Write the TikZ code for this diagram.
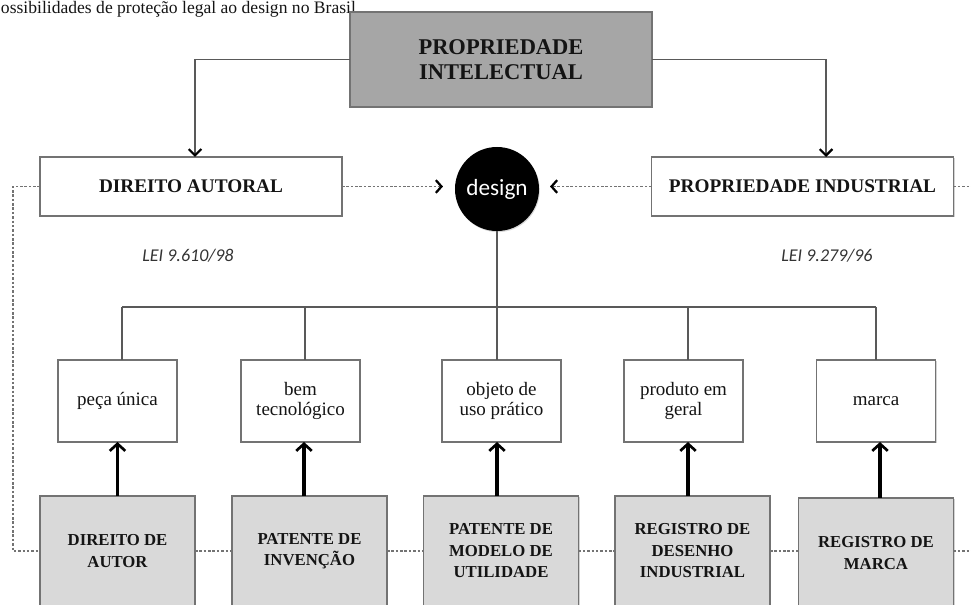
\documentclass[tikz,border=0pt]{standalone}
\usepackage{fontspec}
\setmainfont{Liberation Serif}
\newfontfamily\calfont{Carlito}
\usetikzlibrary{arrows.meta,shadows,calc}
\begin{document}
\begin{tikzpicture}[x=0.025cm,y=-0.025cm,
  every node/.style={inner sep=0pt, outer sep=0pt, align=center, text=black!92},
  boxbase/.style={draw=black!55, line width=0.8pt, drop shadow={shadow xshift=0.8pt,shadow yshift=-1pt,opacity=0.35}},
  topbox/.style={boxbase, fill=black!35, minimum width=7.55cm, minimum height=2.375cm, font=\fontsize{16}{17.8}\selectfont\bfseries},
  midbox/.style={boxbase, fill=white, minimum width=7.55cm, minimum height=1.475cm, font=\fontsize{13.7}{16}\selectfont\bfseries},
  smallbox/.style={boxbase, fill=white, minimum width=2.975cm, minimum height=2.05cm, font=\fontsize{13.5}{14.2}\selectfont},
  regbox/.style={boxbase, fill=black!15, minimum width=3.875cm, minimum height=2.75cm, font=\fontsize{11.9}{15.3}\selectfont\bfseries},
  link/.style={draw=black!65, line width=0.9pt},
  downarrow/.style={link, -{Straight Barb[color=black,length=4.5pt,width=9pt,line width=1.6pt]}},
  uparrow/.style={draw=black, line width=2.3pt, -{Straight Barb[length=5pt,width=11pt,line width=1.9pt]}},
  dots/.style={draw=black!55, line width=0.8pt, dash pattern=on 1.8pt off 1.3pt},
  dotarrow/.style={dots, -{Straight Barb[color=black,length=4pt,width=9pt,line width=1.6pt]}},
  lawtext/.style={font=\calfont\itshape\fontsize{12.8}{14}\selectfont, text=black!80}
]
\useasboundingbox (0,0) rectangle (971,604);
\clip (0,0) rectangle (971,604);

% title
\node[anchor=base west, font=\fontsize{12.5}{15}\selectfont] (title) at (1,13.5) {ossibilidades de proteção legal ao design no Brasil};

% main nodes
\node[topbox] (pi) at (501,59.5) {PROPRIEDADE\\INTELECTUAL};
\node[midbox] (da) at (191,186.5) {DIREITO AUTORAL};
\node[midbox] (pind) at (802.5,186.5) {PROPRIEDADE INDUSTRIAL};
\node[circle, fill=black, minimum size=2.1cm, text=white, font=\calfont\fontsize{16.5}{18}\selectfont,
      drop shadow={shadow xshift=0.6pt,shadow yshift=-0.8pt,opacity=0.3}] (design) at (497,189) {design};
\node[lawtext] (lei1) at (188,256) {LEI 9.610/98};
\node[lawtext] (lei2) at (827,256) {LEI 9.279/96};

% small boxes
\node[smallbox] (s1) at (117.5,401) {peça única};
\node[smallbox] (s2) at (300.5,401) {bem\\tecnológico};
\node[smallbox] (s3) at (501.5,401) {objeto de\\uso prático};
\node[smallbox] (s4) at (683.5,401) {produto em\\geral};
\node[smallbox] (s5) at (876,401) {marca};

% bottom boxes
\node[regbox] (r1) at (117.5,551) {DIREITO DE\\AUTOR};
\node[regbox] (r2) at (309.5,551) {PATENTE DE\\INVENÇÃO};
\node[regbox] (r3) at (501,551) {PATENTE DE\\MODELO DE\\UTILIDADE};
\node[regbox] (r4) at (692.5,551) {REGISTRO DE\\DESENHO\\INDUSTRIAL};
\node[regbox] (r5) at (876,553) {REGISTRO DE\\MARCA};

% top connectors
\draw[downarrow] (pi.west) -| ([xshift=0.1cm]da.north);
\draw[downarrow] (pi.east) -| ([xshift=0.5875cm]pind.north);

% dotted arrows to design
\coordinate (tipL) at ([xshift=-0.3cm]design.west);
\coordinate (tipR) at ([xshift=0.275cm]design.east);
\draw[dotarrow] (da.east) -- (da.east -| tipL);
\draw[dotarrow] (pind.west) -- (pind.west -| tipR);

% design to bus
\coordinate (busL) at (122,307);
\coordinate (busR) at (876,307);
\draw[link] (design.south) -- (design.south |- busL);
\draw[link] (busL) -- (busR);
\draw[link] (busL) -- (busL |- s1.north);
\draw[link] ([xshift=0.1125cm]s2.north |- busL) -- ([xshift=0.1125cm]s2.north);
\draw[link] ([xshift=-0.1125cm]s3.north |- busL) -- ([xshift=-0.1125cm]s3.north);
\draw[link] ([xshift=0.1125cm]s4.north |- busL) -- ([xshift=0.1125cm]s4.north);
\draw[link] (busR) -- (busR |- s5.north);

% thick arrows up
\draw[uparrow] (r1.north) -- (r1.north |- s1.south);
\draw[uparrow] ([xshift=-0.1375cm]r2.north) -- ([xshift=-0.1375cm]r2.north |- s2.south);
\draw[uparrow] ([xshift=-0.1cm]r3.north) -- ([xshift=-0.1cm]r3.north |- s3.south);
\draw[uparrow] ([xshift=-0.1125cm]r4.north) -- ([xshift=-0.1125cm]r4.north |- s4.south);
\draw[uparrow] ([xshift=0.1cm]r5.north) -- ([xshift=0.1cm]r5.north |- s5.south);

% dotted circuit
\coordinate (lx) at (13,0);
\coordinate (rx) at (980,0);
\draw[dots] (da.west) -- (da.west -| lx) -- (r1.west -| lx) -- (r1.west);
\draw[dots] (pind.east) -- (pind.east -| rx);
\draw[dots] (r1.east) -- (r2.west);
\draw[dots] (r2.east) -- (r3.west);
\draw[dots] (r3.east) -- (r4.west);
\draw[dots] (r4.east) -- (r4.east -| r5.west);
\draw[dots] (r4.east -| r5.east) -- (r4.east -| rx);
\end{tikzpicture}
\end{document}
